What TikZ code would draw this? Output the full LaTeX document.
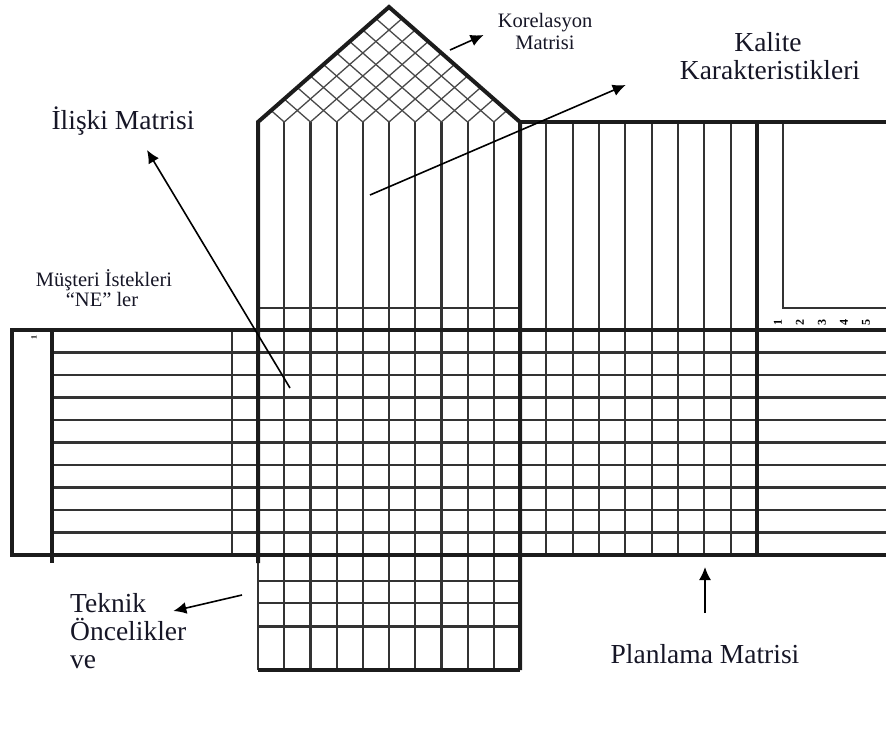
\documentclass[tikz,border=0pt]{standalone}
\usepackage{fontspec}
\setmainfont{Liberation Serif}
\usetikzlibrary{arrows.meta}
\definecolor{gridink}{RGB}{28,28,28}
\definecolor{labelink}{RGB}{22,22,38}

\begin{document}
\begin{tikzpicture}[x=1pt, y=-1pt,
  thickline/.style={line width=4pt, color=gridink},
  gridline/.style={line width=2.2pt, color=gridink!90},
  hatchline/.style={line width=1.3pt, color=gridink!80},
  pointer/.style={line width=1.6pt, color=black, -{Latex[length=13pt,width=12pt]}},
  biglabel/.style={inner sep=0pt, color=labelink, font=\fontsize{27.5}{28}\selectfont},
  smalllabel/.style={inner sep=0pt, color=labelink, font=\fontsize{20.5}{21}\selectfont},
  digit/.style={inner sep=0pt, rotate=90, font=\fontsize{12}{12}\selectfont\bfseries}]
\useasboundingbox (0,0) rectangle (886,751);

% thin grid
\foreach \k in {1,...,9}
  \draw[gridline] (258+26.2*\k,122) -- (258+26.2*\k,670);
\foreach \k in {1,...,8}
  \draw[gridline] (520+26.33*\k,122) -- (520+26.33*\k,555);
\foreach \j in {1,...,9}
  \draw[gridline] (52,330+22.5*\j) -- (886,330+22.5*\j);
\draw[gridline] (258,308) -- (520,308);
\draw[gridline] (232,330) -- (232,555);
\draw[gridline] (258,581) -- (520,581) (258,603) -- (520,603);
\draw[gridline] (258,555) -- (258,670);
\draw[gridline, line width=3pt] (258,626) -- (520,626);
\draw[gridline, line width=1.6pt] (783,122) -- (783,308) -- (886,308);

% roof hatching
\foreach \k in {1,...,9}{
  \pgfmathsetmacro\xk{258+26.2*\k}
  \pgfmathsetmacro\dl{(\xk-258)/2}
  \pgfmathsetmacro\dr{(520-\xk)/2}
  \draw[hatchline] (\xk-\dl,122-0.8779*\dl) -- (\xk,122) -- (\xk+\dr,122-0.8779*\dr);
}

% thick outline
\draw[thickline] (258,563) -- (258,122) -- (389,7) -- (520,122) -- (520,670);
\draw[thickline] (520,122) -- (886,122) (757,122) -- (757,555);
\draw[thickline] (886,330) -- (12,330) -- (12,555) -- (886,555);
\draw[thickline] (52,330) -- (52,563) (258,670) -- (520,670);

% labels
\node[smalllabel, anchor=base] (kor1) at (545,28) {Korelasyon};
\node[smalllabel, anchor=base] (kor2) at (545,50) {Matrisi};
\node[biglabel, anchor=base] (kalite1) at (768,52) {Kalite};
\node[biglabel, anchor=base] (kalite2) at (770,80) {Karakteristikleri};
\node[biglabel, anchor=base] (iliski) at (123,130) {İlişki Matrisi};
\node[smalllabel, anchor=base] (musteri1) at (104,287) {Müşteri İstekleri};
\node[smalllabel, anchor=base] (musteri2) at (102,306) {“NE” ler};
\node[biglabel, anchor=base west] (teknik1) at (70,612) {Teknik};
\node[biglabel, anchor=base west] (teknik2) at (70,640) {Öncelikler};
\node[biglabel, anchor=base west] (teknik3) at (70,668) {ve};
\node[biglabel, anchor=base] (planlama) at (705,663) {Planlama Matrisi};

\foreach \d [count=\i from 0] in {1,...,5}
  \node[digit] (d\d) at (778+22*\i,322) {\d};
\node[digit, font=\fontsize{8}{8}\selectfont\bfseries] (mark) at (34,337) {1};

% pointers
\coordinate (kor-from) at (450,50);
\coordinate (kalite-from) at (370,195);
\coordinate (iliski-from) at (290,388);
\coordinate (teknik-from) at (242,595);
\coordinate (planlama-to) at (705,567);
\draw[pointer] (kor-from) -- ([shift={(-14,7)}]kor1.base west);
\draw[pointer] (kalite-from) -- ([shift={(-54,5)}]kalite2.base west);
\draw[pointer] (iliski-from) -- ([shift={(24,20)}]iliski.base);
\draw[pointer] (teknik-from) -- ([shift={(27,-1)}]teknik1.base east);
\draw[pointer] ([shift={(0,-50)}]planlama.base) -- (planlama-to);
\end{tikzpicture}
\end{document}
